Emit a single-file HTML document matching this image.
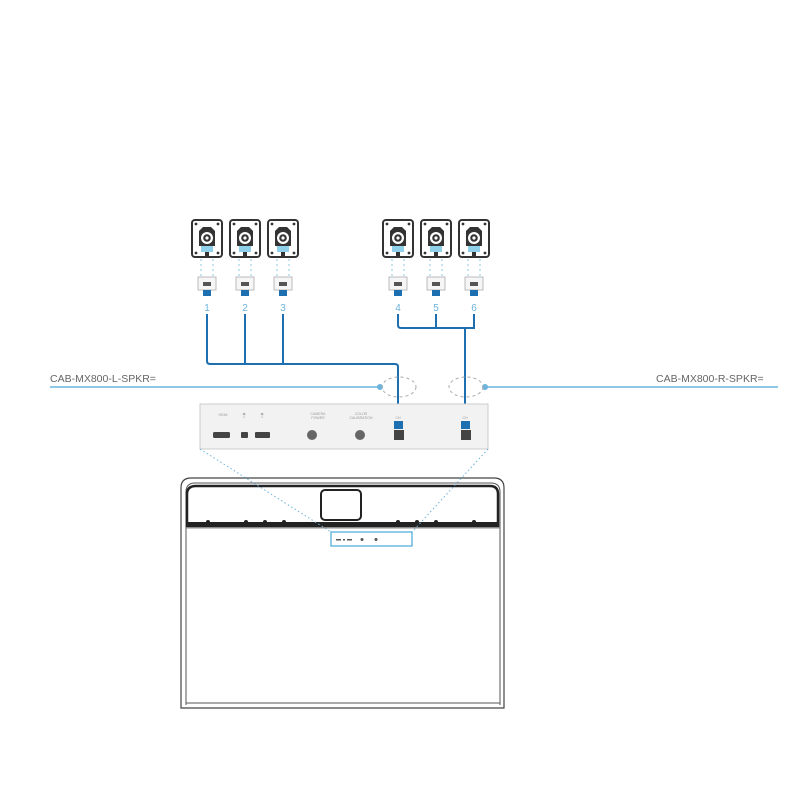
<!DOCTYPE html>
<html><head><style>html,body{margin:0;padding:0;background:#fff;}</style></head>
<body>
<svg width="800" height="800" viewBox="0 0 800 800" xmlns="http://www.w3.org/2000/svg" font-family="Liberation Sans, sans-serif">
<defs>
<g id="spk">
  <rect x="1" y="1" width="30" height="37" rx="3" fill="#fff" stroke="#333" stroke-width="2"/>
  <circle cx="5" cy="5" r="1.4" fill="#333"/><circle cx="27" cy="5" r="1.4" fill="#333"/>
  <circle cx="5" cy="34" r="1.4" fill="#333"/><circle cx="27" cy="34" r="1.4" fill="#333"/>
  <path d="M8 12 L12 8 L20 8 L24 12 L24 27 L8 27 Z" fill="#333"/>
  <circle cx="16" cy="19" r="6" fill="#fff"/><circle cx="16" cy="19" r="3.8" fill="#333"/><circle cx="16" cy="19" r="1.6" fill="#fff"/>
  <rect x="10" y="27" width="12" height="6" fill="#8fd0ea"/>
  <rect x="14" y="33" width="4" height="5" fill="#333"/>
</g>
<g id="conn">
  <line x1="10" y1="40" x2="10" y2="58" stroke="#8bc8e6" stroke-dasharray="2,3"/>
  <line x1="22" y1="40" x2="22" y2="58" stroke="#8bc8e6" stroke-dasharray="2,3"/>
  <rect x="7" y="58" width="18" height="13" fill="#f6f6f6" stroke="#bbb"/>
  <rect x="12" y="63" width="8" height="4" fill="#555"/>
  <rect x="12" y="71" width="8" height="6" fill="#1d6fb0"/>
</g>
</defs>
<use href="#spk" x="191" y="219"/><use href="#spk" x="229" y="219"/><use href="#spk" x="267" y="219"/>
<use href="#spk" x="382" y="219"/><use href="#spk" x="420" y="219"/><use href="#spk" x="458" y="219"/>
<use href="#conn" x="191" y="219"/><use href="#conn" x="229" y="219"/><use href="#conn" x="267" y="219"/>
<use href="#conn" x="382" y="219"/><use href="#conn" x="420" y="219"/><use href="#conn" x="458" y="219"/>
<g fill="#6cb4de" font-size="10" text-anchor="middle">
<text x="207" y="311">1</text><text x="245" y="311">2</text><text x="283" y="311">3</text>
<text x="398" y="311">4</text><text x="436" y="311">5</text><text x="474" y="311">6</text>
</g>
<g fill="none" stroke="#1d6fb0" stroke-width="2">
<path d="M207 314 V361 Q207 364 210 364 H395 Q398 364 398 367 V424"/>
<path d="M245 314 V364 M283 314 V364"/>
<path d="M398 314 V325 Q398 328 401 328 H474 V314 M436 314 V328"/>
<path d="M465 328 V424"/>
</g>
<text x="50" y="382" font-size="10.5" fill="#666">CAB-MX800-L-SPKR=</text>
<text x="656" y="382" font-size="10.5" fill="#666">CAB-MX800-R-SPKR=</text>
<line x1="50" y1="387" x2="380" y2="387" stroke="#6cb4de" stroke-width="1.5"/>
<circle cx="380" cy="387" r="3" fill="#6cb4de"/>
<line x1="485" y1="387" x2="778" y2="387" stroke="#6cb4de" stroke-width="1.5"/>
<circle cx="485" cy="387" r="3" fill="#6cb4de"/>
<ellipse cx="399" cy="387" rx="17" ry="10" fill="none" stroke="#aaa" stroke-dasharray="3,3"/>
<ellipse cx="466" cy="387" rx="17" ry="10" fill="none" stroke="#aaa" stroke-dasharray="3,3"/>
<rect x="200" y="404" width="288" height="45" fill="#f2f2f2" stroke="#ccc"/>
<g font-size="3.5" fill="#999" text-anchor="middle">
<text x="223" y="416">HDMI</text>
<text x="318" y="415">CAMERA</text><text x="318" y="419">POWER</text>
<text x="361" y="415">COLOR</text><text x="361" y="419">CALIBRATION</text>
<text x="398" y="419">CH</text><text x="465" y="419">CH</text>
</g>
<text x="244" y="418" font-size="7" fill="#888" text-anchor="middle">⇡</text>
<text x="262" y="418" font-size="7" fill="#888" text-anchor="middle">⇡</text>
<rect x="213" y="432" width="17" height="6" rx="1.5" fill="#444"/>
<rect x="241" y="432" width="7" height="6" rx="1" fill="#444"/>
<rect x="255" y="432" width="15" height="6" rx="1" fill="#444"/>
<circle cx="312" cy="435" r="5" fill="#666"/>
<circle cx="360" cy="435" r="5" fill="#666"/>
<rect x="394" y="430" width="10" height="10" fill="#444"/>
<rect x="461" y="430" width="10" height="10" fill="#444"/>
<rect x="394" y="421" width="9" height="8" fill="#1d6fb0"/>
<rect x="461" y="421" width="9" height="8" fill="#1d6fb0"/>
<path d="M181 708 V488 Q181 478 191 478 H494 Q504 478 504 488 V708 Z" fill="#fff" stroke="#444" stroke-width="1.2"/>
<path d="M186 705 V492 Q186 483 195 483 H491 Q500 483 500 492 V705" fill="none" stroke="#555"/>
<path d="M187 526 V494 Q187 486 196 486 H490 Q498 486 498 494 V526 Z" fill="none" stroke="#222" stroke-width="2.5"/>
<rect x="187" y="522" width="312" height="4" fill="#222"/>
<rect x="321" y="490" width="40" height="30" rx="4" fill="#fff" stroke="#222" stroke-width="2"/>
<g fill="#222"><circle cx="208" cy="522" r="2"/><circle cx="246" cy="522" r="2"/><circle cx="265" cy="522" r="2"/><circle cx="284" cy="522" r="2"/><circle cx="398" cy="522" r="2"/><circle cx="417" cy="522" r="2"/><circle cx="436" cy="522" r="2"/><circle cx="474" cy="522" r="2"/></g>
<line x1="186" y1="528" x2="500" y2="528" stroke="#888"/>
<line x1="186" y1="703" x2="500" y2="703" stroke="#555"/>
<line x1="200" y1="449" x2="331" y2="532" stroke="#6cb4de" stroke-dasharray="1.5,2.5"/>
<line x1="488" y1="449" x2="412" y2="532" stroke="#6cb4de" stroke-dasharray="1.5,2.5"/>
<rect x="331" y="532" width="81" height="14" fill="#fff" stroke="#4aa8d8" stroke-width="1.2"/>
<g fill="#555"><rect x="336" y="539" width="5" height="1.5"/><rect x="343" y="539" width="2" height="1.5"/><rect x="347" y="539" width="5" height="1.5"/><circle cx="362" cy="539.5" r="1.5"/><circle cx="376" cy="539.5" r="1.5"/></g>
</svg>
</body></html>
